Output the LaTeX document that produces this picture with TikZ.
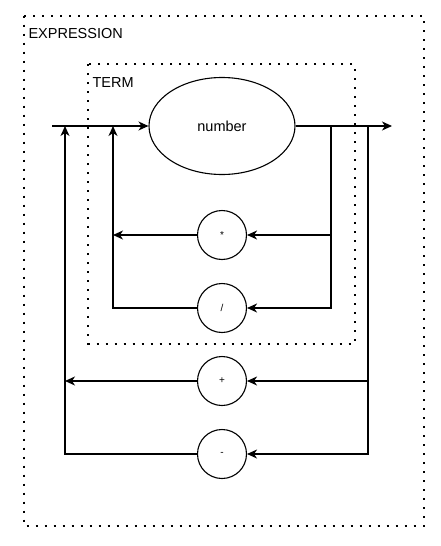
\documentclass[tikz,border=0pt]{standalone}
\usepackage{fontspec}
\setmainfont{Liberation Sans}
\usetikzlibrary{shapes.geometric,arrows.meta}
\begin{document}
\begin{tikzpicture}[x=1pt,y=-1pt,
  line width=1.1pt,
  arr/.style={-{Stealth[length=10pt,width=9pt,inset=3pt]}},
  dotbox/.style={line width=2pt,dash pattern=on 2pt off 7pt},
  op/.style={circle,draw,minimum size=49pt,inner sep=0pt,font=\fontsize{10}{12}\selectfont},
  lbl/.style={anchor=west,inner sep=0pt,font=\fontsize{14.5}{17}\selectfont}]
\useasboundingbox (0,0) rectangle (441,546);
% boxes
\draw[dotbox] (23.5,15.5) rectangle (423.5,525.5);
\draw[dotbox] (88,64) rectangle (354.5,343.5);
\node[lbl] (expr) at (28,34) {EXPRESSION};
\node[lbl] (term) at (92,83) {TERM};
% nodes
\node[ellipse,draw,minimum width=146pt,minimum height=97pt,inner sep=0pt,font=\fontsize{14.5}{17}\selectfont] (num) at (222,126) {number};
\node[op] (mul) at (222,235) {*};
\node[op] (div) at (222,308) {/};
\node[op] (plus) at (222,381) {+};
\node[op] (minus) at (222,454) {-};
% coordinates
\coordinate (in) at (52,126);
\coordinate (j1) at (65,126);
\coordinate (j2) at (113,126);
\coordinate (s1) at (331,126);
\coordinate (s2) at (368,126);
\coordinate (out) at (392,126);
% connectors
\draw[arr] (in) -- (num.west);
\draw[arr] (num.east) -- (out);
\draw[arr] (s1) |- (mul.east);
\draw[arr] (s1) |- (div.east);
\draw[arr] (mul.west) -- (mul.west -| j2);
\draw[arr] (div.west) -| (j2);
\draw[arr] (s2) |- (plus.east);
\draw[arr] (s2) |- (minus.east);
\draw[arr] (plus.west) -- (plus.west -| j1);
\draw[arr] (minus.west) -| (j1);
\end{tikzpicture}
\end{document}
